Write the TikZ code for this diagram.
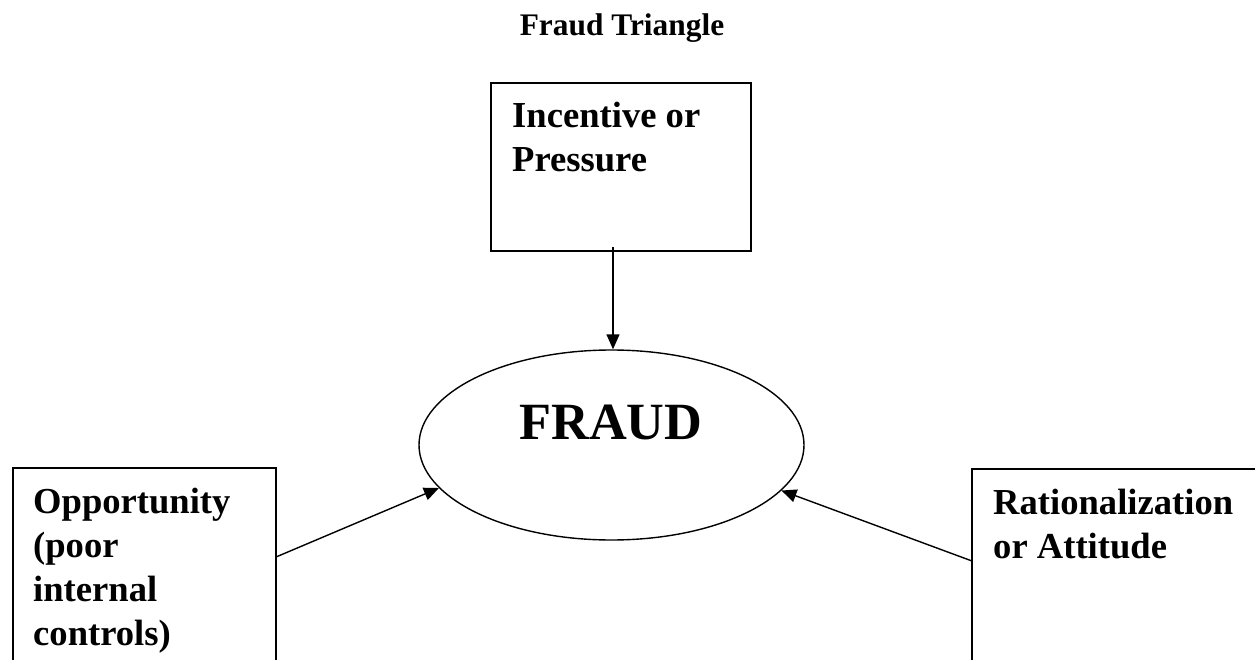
\documentclass[tikz,border=0pt]{standalone}
\usepackage{fontspec}
\setmainfont{Liberation Serif}
\usetikzlibrary{shapes.geometric,arrows.meta}
\begin{document}
\begin{tikzpicture}[x=1pt,y=-1pt,
  boxn/.style={draw,line width=1.8pt,rectangle,inner sep=0pt},
  boxtext/.style={inner sep=0pt,anchor=base west,align=left,font=\fontsize{36.6}{44}\selectfont\bfseries},
  arr/.style={line width=1.4pt,-{Triangle[length=15pt,width=13pt]}}]
\useasboundingbox (0,0) rectangle (1255,660);
\clip (0,0) rectangle (1255,660);
\node[inner sep=0pt,anchor=base,font=\fontsize{31.4}{36}\selectfont\bfseries] (title) at (622,36) {Fraud Triangle};
\node[boxn,minimum width=260pt,minimum height=168pt] (inc) at (621,167) {};
\node[boxn,minimum width=263pt,minimum height=260pt] (opp) at (144.5,598) {};
\node[boxn,minimum width=310pt,minimum height=260pt] (rat) at (1127,599) {};
\node[draw,ellipse,line width=1.4pt,inner sep=0pt,minimum width=385pt,minimum height=190pt] (fraud) at (611.5,445) {};
\node[inner sep=0pt,anchor=base,font=\fontsize{52.3}{60}\selectfont\bfseries] (fraudtxt) at (611,439) {FRAUD};
\node[boxtext] (inctxt) at (512,172) {Incentive or\\Pressure};
\node[boxtext] (opptxt) at (33,645) {Opportunity\\(poor\\internal\\controls)};
\node[boxtext] (rattxt) at (993,558) {Rationalization\\or Attitude};
\coordinate (incs) at (613,247);
\coordinate (opps) at (276,557);
\coordinate (rats) at (972,561);
\draw[arr] (incs) -- (incs |- fraud.north);
\draw[arr] (opps) -- (fraud.194.3);
\draw[arr] (rats) -- (fraud.345.2);
\end{tikzpicture}
\end{document}
